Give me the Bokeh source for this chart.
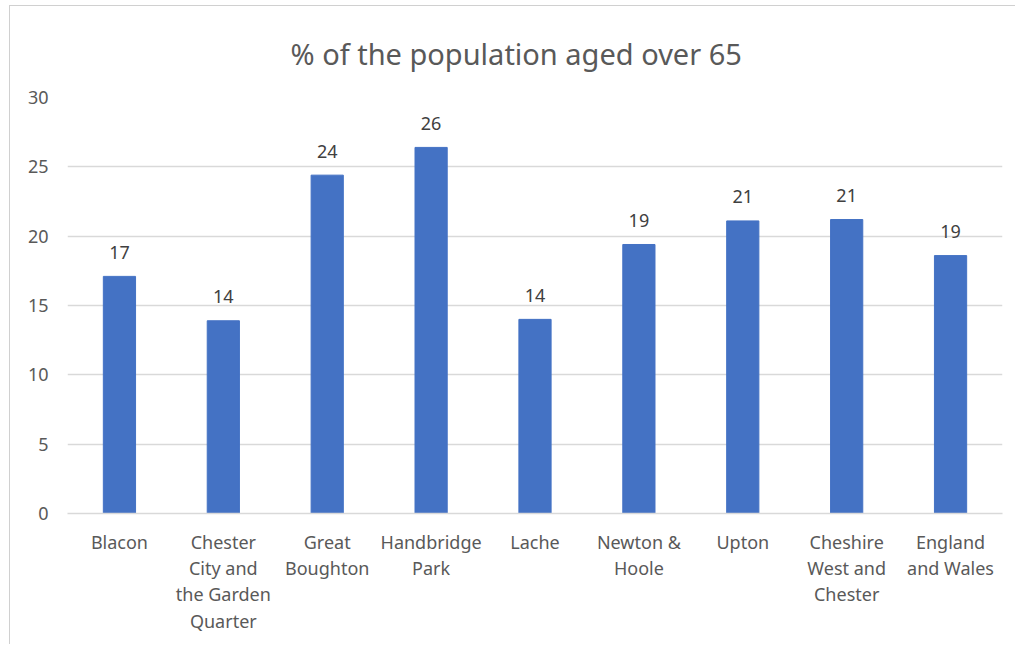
from bokeh.plotting import figure
from bokeh.models import Range1d, FactorRange
from bokeh.core.properties import value
from bokeh.embed import file_html
from bokeh.resources import INLINE

title_text = "% of the population aged over 65"
categories = [
    "Blacon",
    "Chester\nCity and\nthe Garden\nQuarter",
    "Great\nBoughton",
    "Handbridge\nPark",
    "Lache",
    "Newton &\nHoole",
    "Upton",
    "Cheshire\nWest and\nChester",
    "England\nand Wales",
]
values = [17.1, 13.9, 24.4, 26.4, 14.0, 19.4, 21.1, 21.2, 18.6]
labels = ["17", "14", "24", "26", "14", "19", "21", "21", "19"]
y_ticks = [0, 5, 10, 15, 20, 25, 30]

FONT = "Noto Sans"
GREY = "#595959"

p = figure(
    width=1006, height=639,
    x_range=FactorRange(*categories, range_padding=0),
    y_range=Range1d(0, 30),
    output_backend="svg", toolbar_location=None,
    min_border_left=57, min_border_right=14, min_border_top=91, min_border_bottom=132,
    title=title_text,
)
p.title.text_font = FONT
p.title.text_font_size = "29px"
p.title.text_font_style = "normal"
p.title.text_color = GREY
p.title.align = "left"
p.title.offset = 223
p.title.standoff = 49

p.outline_line_color = None
p.xgrid.grid_line_color = None
p.ygrid.grid_line_color = "#d9d9d9"
p.ygrid.grid_line_width = 1.5
p.yaxis.ticker = y_ticks

p.yaxis.axis_line_color = None
p.yaxis.major_tick_line_color = None
p.yaxis.minor_tick_line_color = None
p.yaxis.major_label_standoff = 13
p.yaxis.major_label_text_font = FONT
p.yaxis.major_label_text_font_size = "18px"
p.yaxis.major_label_text_color = GREY

p.xaxis.axis_line_color = "#d9d9d9"
p.xaxis.axis_line_width = 1.5
p.xaxis.major_tick_line_color = None
p.xaxis.minor_tick_line_color = None
p.xaxis.major_label_standoff = 10
p.xaxis.major_label_text_font = FONT
p.xaxis.major_label_text_font_size = "18px"
p.xaxis.major_label_text_color = GREY
p.xaxis.major_label_text_line_height = 1.1

p.vbar(x=categories, top=values, width=0.31, color="#4472C4")
p.text(x=categories, y=values, text=labels, text_align="center", text_baseline="alphabetic",
       y_offset=-24, text_font=value(FONT), text_font_size="18px", text_color="#404040")

p.styles = {"margin-left": "9px", "margin-top": "5px",
            "border-left": "1px solid #d0d0d0", "border-top": "1px solid #d0d0d0"}

open("out.html", "w").write(file_html(p, INLINE))
